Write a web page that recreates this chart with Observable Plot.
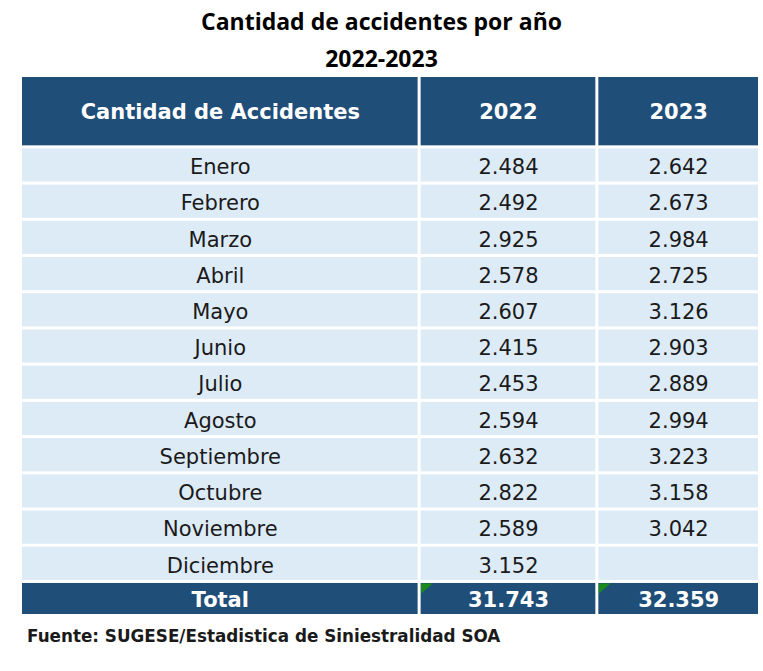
<!DOCTYPE html>
<html>
<head>
<meta charset="utf-8">
<script src="https://cdn.jsdelivr.net/npm/d3@7"></script>
<script src="https://cdn.jsdelivr.net/npm/@observablehq/plot@0.6"></script>
<style>
  body { margin: 0; background: #ffffff; }
  #title { width: 763px; height: 70px; text-align: center; font-family: "Open Sans", Lato, sans-serif; font-weight: bold; font-size: 23px; line-height: 37px; color: #000; padding-top: 3px; box-sizing: border-box; }
  #chart svg { display: block; }
  #footer { padding-left: 27px; font-family: "DejaVu Sans", sans-serif; font-weight: bold; font-size: 16.8px; color: #1a1a1a; line-height: 20px; }
</style>
</head>
<body>
<div id="title">Cantidad de accidentes por año<br>2022-2023</div>
<div id="chart"></div>
<div id="footer">Fuente: SUGESE/Estadistica de Siniestralidad SOA</div>
<script>
// ---- data ----
const headerLabels = ["Cantidad de Accidentes", "2022", "2023"];
const months = ["Enero", "Febrero", "Marzo", "Abril", "Mayo", "Junio", "Julio", "Agosto", "Septiembre", "Octubre", "Noviembre", "Diciembre"];
const values2022 = [2484, 2492, 2925, 2578, 2607, 2415, 2453, 2594, 2632, 2822, 2589, 3152];
const values2023 = [2642, 2673, 2984, 2725, 3126, 2903, 2889, 2994, 3223, 3158, 3042, null];
const totalLabel = "Total";
const totals = [31743, 32359];

// ---- layout ----
const colWidths = [397, 177, 162];
const headerH = 1.97, monthH = 1, totalH = 0.94;
const dark = "#1f4e79", light = "#ddebf7";

const fmt = d3.formatLocale({decimal: ",", thousands: ".", grouping: [3], currency: ["", ""]}).format(",d");

const colX = [0];
colWidths.forEach((w, i) => colX.push(colX[i] + w));

const cells = [];
function addRow(y1, y2, texts, kind) {
  texts.forEach((t, c) => {
    cells.push({x1: colX[c], x2: colX[c + 1], y1, y2, text: t, kind, col: c});
  });
}
addRow(0, headerH, headerLabels, "header");
months.forEach((m, i) => {
  const y1 = headerH + i * monthH;
  addRow(y1, y1 + monthH, [m, values2022[i] == null ? "" : fmt(values2022[i]), values2023[i] == null ? "" : fmt(values2023[i])], "body");
});
const totalY = headerH + months.length * monthH;
addRow(totalY, totalY + totalH, [totalLabel, fmt(totals[0]), fmt(totals[1])], "total");

const markers = cells.filter(d => d.kind === "total" && d.col > 0);

const cornerTriangle = {
  draw(context, size) {
    const s = Math.sqrt(size);
    context.moveTo(0, 0);
    context.lineTo(s, 0);
    context.lineTo(0, s * 0.85);
    context.closePath();
  }
};

const chart = Plot.plot({
  width: 763,
  height: 556,
  marginLeft: 20.5,
  marginRight: 3.5,
  marginTop: 5.5,
  marginBottom: 10.5,
  x: {domain: [0, colX[colX.length - 1]], axis: null},
  y: {domain: [0, totalY + totalH], axis: null, reverse: true},
  marks: [
    Plot.rect(cells, {
      x1: "x1", x2: "x2", y1: "y1", y2: "y2",
      fill: d => d.kind === "body" ? light : dark,
      inset: 1.5
    }),
    Plot.dot(markers, {
      x: "x1", y: "y1", symbol: cornerTriangle, r: 6.6,
      fill: "#1b8a1b", stroke: null, dx: 1.5, dy: 1.5
    }),
    Plot.text(cells.filter(d => d.kind === "body"), {
      x: d => (d.x1 + d.x2) / 2, y: d => (d.y1 + d.y2) / 2,
      text: "text", fill: "#1a1a1a", dy: 2,
      fontFamily: "DejaVu Sans", fontSize: 21
    }),
    Plot.text(cells.filter(d => d.kind !== "body"), {
      x: d => (d.x1 + d.x2) / 2, y: d => (d.y1 + d.y2) / 2,
      text: "text", fill: "#ffffff", dy: 1,
      fontFamily: "DejaVu Sans", fontSize: 21, fontWeight: "bold"
    })
  ]
});
document.getElementById("chart").appendChild(chart);
</script>
</body>
</html>
